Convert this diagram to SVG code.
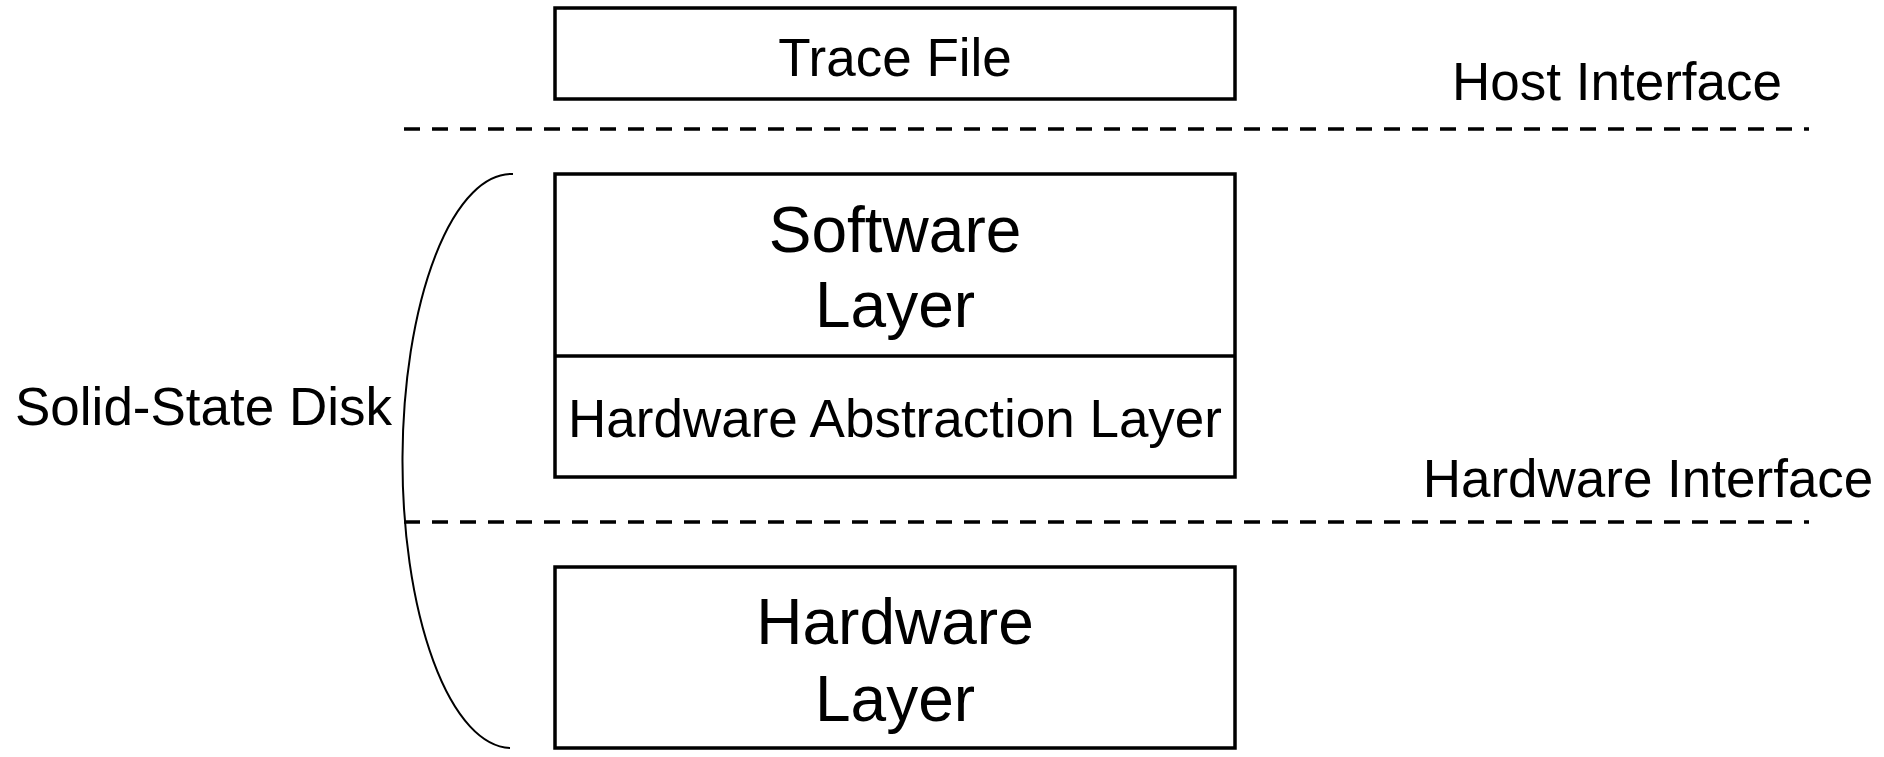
<svg xmlns="http://www.w3.org/2000/svg" width="1884" height="757" viewBox="0 0 1884 757">
  <style>
    .box { fill: #ffffff; stroke: #000000; stroke-width: 3.5; }
    .divider { fill: none; stroke: #000000; stroke-width: 3.5; }
    .boundary { fill: none; stroke: #000000; stroke-width: 3.5; stroke-dasharray: 16 12; }
    .brace { fill: none; stroke: #000000; stroke-width: 2; }
    text { font-family: "Liberation Sans", Arial, sans-serif; fill: #000000; }
    .mid { font-size: 53px; }
    .big { font-size: 64px; }
    .c { text-anchor: middle; }
  </style>
  <rect width="1884" height="757" fill="#ffffff"/>

  <!-- interface boundaries -->
  <g id="connectors">
    <line class="boundary" x1="404" y1="129" x2="1809" y2="129"/>
    <line class="boundary" x1="404" y1="522" x2="1809" y2="522"/>
    <path class="brace" d="M 513 174 A 109 287 0 0 0 510 748"/>
  </g>

  <g id="trace-file">
    <rect class="box" x="555" y="8" width="680" height="91"/>
    <text class="mid c" x="895" y="76">Trace File</text>
  </g>

  <g id="host-interface">
    <text class="mid c" x="1617" y="100">Host Interface</text>
  </g>

  <g id="software-stack">
    <rect class="box" x="555" y="174" width="680" height="303"/>
    <line class="divider" x1="555" y1="356" x2="1235" y2="356"/>
  </g>

  <g id="software-layer">
    <text class="big c" x="895" y="252">Software</text>
    <text class="big c" x="895" y="327">Layer</text>
  </g>

  <g id="hardware-abstraction-layer">
    <text class="mid c" x="895" y="437">Hardware Abstraction Layer</text>
  </g>

  <g id="hardware-interface">
    <text class="mid c" x="1648" y="497">Hardware Interface</text>
  </g>

  <g id="hardware-layer">
    <rect class="box" x="555" y="567" width="680" height="181"/>
    <text class="big c" x="895" y="644">Hardware</text>
    <text class="big c" x="895" y="721">Layer</text>
  </g>

  <g id="solid-state-disk">
    <text class="mid" x="15" y="425">Solid-State Disk</text>
  </g>
</svg>
